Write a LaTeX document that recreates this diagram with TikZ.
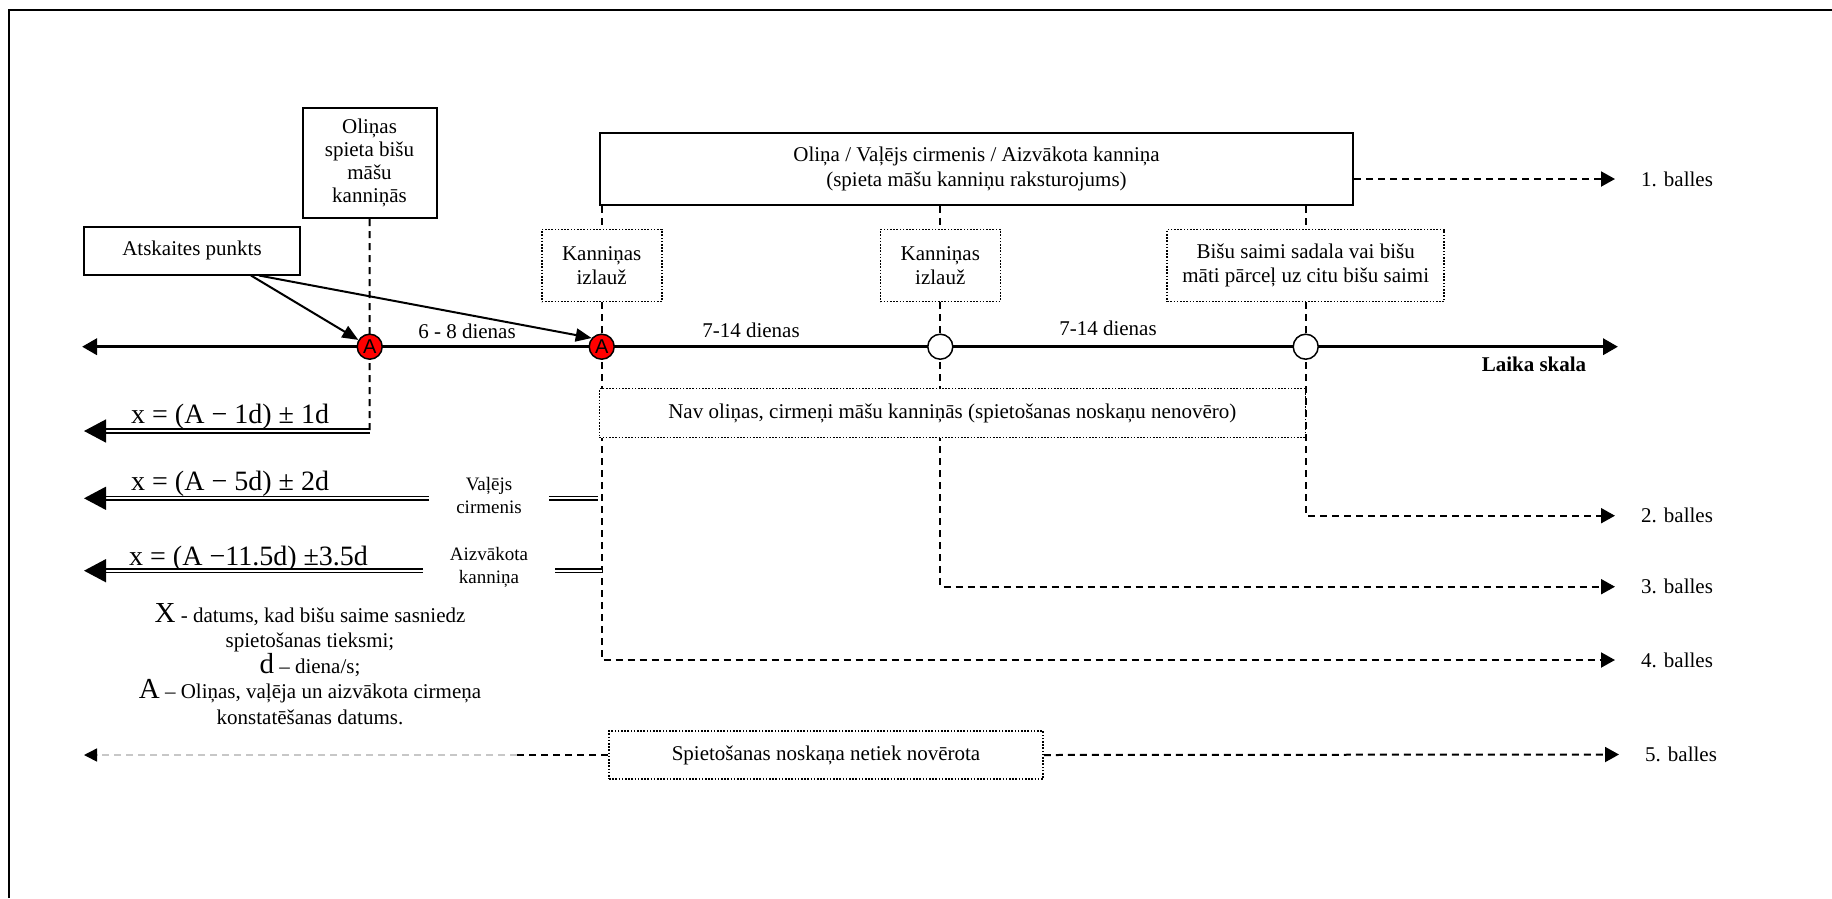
\documentclass[tikz,border=0pt]{standalone}
\usepackage{fontspec}
\setmainfont{Liberation Serif}
\newfontfamily\markfont{Liberation Sans}
\usetikzlibrary{arrows.meta,backgrounds,calc}

\begin{document}
\begin{tikzpicture}[x=1pt,y=-1pt,
  every node/.style={font=\fontsize{21}{24}\selectfont, inner sep=0pt},
  solidbox/.style={draw, line width=2pt, fill=white, align=center},
  dotbox/.style={draw, line width=1.6pt, dash pattern=on 1.6pt off 1.6pt, fill=white, align=center},
  guide/.style={line width=2pt, dash pattern=on 7pt off 5pt},
  guidearrow/.style={guide, -{Triangle[length=14pt,width=15pt]}},
  pointer/.style={line width=2pt, -{Triangle[length=16pt,width=13pt]}},
  axis/.style={line width=3.5pt, {Triangle[length=15pt,width=16pt]}-{Triangle[length=15pt,width=16pt]}},
  markbase/.style={circle, draw, line width=1.5pt, minimum size=25pt, inner sep=0pt},
  refmark/.style={markbase, fill=red, font=\markfont\fontsize{20}{20}\selectfont},
  openmark/.style={markbase, fill=white},
  dbl/.style={line width=1.5pt, double, double distance=2.2pt},
  dblarrow/.style={dbl, -{Triangle[length=22pt,width=23pt]}},
  formula/.style={anchor=base west, font=\fontsize{28}{30}\selectfont},
  sidelabel/.style={align=center, inner xsep=27pt, font=\fontsize{19}{23}\selectfont},
  grade/.style={anchor=west, inner xsep=26pt}
]
\useasboundingbox (0,0) rectangle (1832,898);

% frame
\draw[line width=2pt] (9,898) -- (9,10) -- (1832,10);

% boxes above the time axis
\node[solidbox, minimum width=134pt, minimum height=110pt, font=\fontsize{21}{23}\selectfont]
  (olin) at (369.5,163) {Oliņas\\spieta bišu\\māšu\\kanniņās};
\node[solidbox, minimum width=216pt, minimum height=48pt] (ats) at (192,250.5) {Atskaites punkts};
\node[solidbox, minimum width=753pt, minimum height=72pt, font=\fontsize{21}{24.4}\selectfont]
  (cells) at (976.5,169) {Oliņa / Vaļējs cirmenis / Aizvākota kanniņa\\(spieta māšu kanniņu raksturojums)};
\node[dotbox, minimum width=120pt, minimum height=72pt, font=\fontsize{21}{23.3}\selectfont]
  (hatch1) at (601.7,265.5) {Kanniņas\\izlauž};
\node[dotbox, minimum width=120pt, minimum height=72pt, font=\fontsize{21}{23.3}\selectfont]
  (hatch2) at (940.3,265.5) {Kanniņas\\izlauž};
\node[dotbox, minimum width=277pt, minimum height=72pt, font=\fontsize{21}{23.3}\selectfont]
  (split) at (1305.7,265.5) {Bišu saimi sadala vai bišu\\māti pārceļ uz citu bišu saimi};

% time axis
\coordinate (tl-l) at (82,346.7);
\coordinate (tl-r) at (1618,346.7);
\node[refmark] (a1) at (369.7,346.7) {A};
\node[refmark] (a2) at (601.7,346.7) {A};
\node[openmark] (o1) at (940.3,346.7) {};
\node[openmark] (o2) at (1305.7,346.7) {};
\node (d1) at (467,331.7) {6 - 8 dienas};
\node (d2) at (751,330) {7-14 dienas};
\node (d3) at (1108,328.3) {7-14 dienas};
\node[font=\fontsize{21}{24}\selectfont\bfseries] (scale) at (1534,364.3) {Laika skala};

% box below the axis
\node[dotbox, minimum width=706pt, minimum height=49pt] (none) at (952.3,413)
  {Nav oliņas, cirmeņi māšu kanniņās (spietošanas noskaņu nenovēro)};

% grades
\node[grade] (g1) at (1615,179) {1. balles};
\node[grade] (g2) at (1615,515.7) {2. balles};
\node[grade] (g3) at (1615,586.7) {3. balles};
\node[grade] (g4) at (1615,660) {4. balles};
\node[grade] (g5) at (1619,754.5) {5. balles};

\node[dotbox, minimum width=434pt, minimum height=48pt] (quiet) at (826,755) {Spietošanas noskaņa netiek novērota};

% formulas and legend
\node[formula] (f1) at (131,423) {x = (A − 1d) ± 1d};
\node[formula] (f2) at (131,490) {x = (A − 5d) ± 2d};
\node[formula] (f3) at (129,565) {x = (A −11.5d) ±3.5d};
\node[sidelabel] (open) at (489,495) {Vaļējs\\cirmenis};
\node[sidelabel] (sealed) at (489,567) {Aizvākota\\kanniņa};
\node[align=center, font=\fontsize{21}{25.5}\selectfont] (legend) at (310,664)
  {{\fontsize{29}{25.5}\selectfont X} - datums, kad bišu saime sasniedz\\
   spietošanas tieksmi;\\
   {\fontsize{29}{25.5}\selectfont d} – diena/s;\\
   {\fontsize{29}{25.5}\selectfont A} – Oliņas, vaļēja un aizvākota cirmeņa\\
   konstatēšanas datums.};

% connector end points
\coordinate (f1end) at (84,431);
\coordinate (f2end) at (84,498.3);
\coordinate (f3end) at (84,570.7);
\coordinate (v1foot) at (369.7,431);
\coordinate (v2a) at (598,498.3);
\coordinate (v2b) at (601.7,570.7);
\coordinate (c4) at (601.7,660);
\coordinate (c3) at (940.3,586.7);
\coordinate (c2) at (1305.7,515.7);
\coordinate (r5mid) at (517,755);
\coordinate (r5end) at (84,755);

\begin{pgfonlayer}{background}
  \draw[guide] (olin.south) -- (v1foot);
  \draw[guidearrow] (cells.south -| a2) -- (c4) -- (g4.west);
  \draw[guidearrow] (cells.south -| o1) -- (c3) -- (g3.west);
  \draw[guidearrow] (cells.south -| o2) -- (c2) -- (g2.west);
  \draw[axis] (tl-l) -- (tl-r);
\end{pgfonlayer}

% connectors
\draw[guidearrow] (cells.east |- g1) -- (g1.west);
\draw[pointer] ([xshift=59pt]ats.south) -- (a1);
\draw[pointer] ([xshift=67pt]ats.south) -- (a2.139);

\draw[dblarrow] (v1foot) -- (f1end);
\draw[dblarrow] (open.west |- f2end) -- (f2end);
\draw[dbl] (open.east |- f2end) -- (v2a);
\draw[dblarrow] (sealed.west |- f3end) -- (f3end);
\draw[dbl] (sealed.east |- f3end) -- (v2b);

\draw[guide] (quiet.west) -- (r5mid);
\draw[line width=1.5pt, black!22, dash pattern=on 7pt off 5pt,
  -{Triangle[length=13pt,width=13pt,color=black]}] (r5mid) -- (r5end);
\draw[guidearrow] (quiet.east) -- (g5.west);
\end{tikzpicture}
\end{document}
